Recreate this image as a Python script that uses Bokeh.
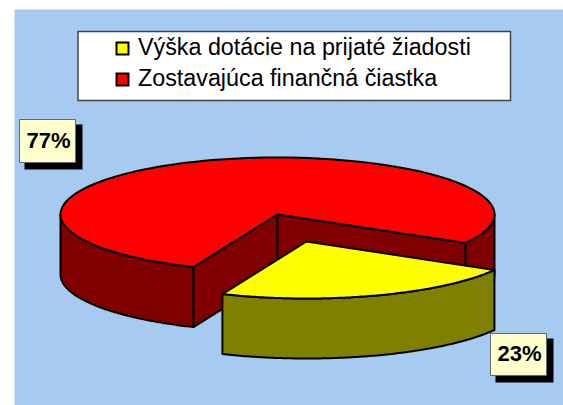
import numpy as np
from bokeh.plotting import figure
from bokeh.models import Range1d
from bokeh.core.properties import value
from bokeh.embed import file_html
from bokeh.resources import INLINE

# data
categories = ["Výška dotácie na prijaté žiadosti", "Zostavajúca finančná čiastka"]
shares = [23, 77]
share_labels = ["23%", "77%"]
top_colors = ["#FFFF00", "#FF0000"]
side_colors = ["#808000", "#800000"]

# pie layout (in page pixels)
CX, CY, RX, RY, DEPTH = 277, 214, 217, 57, 60
START = 30.0
OX, OY = 29, 27
FONT = value("Liberation Sans")

p = figure(width=563, height=405, output_backend="svg", toolbar_location=None,
           x_range=Range1d(0, 563), y_range=Range1d(405, 0),
           min_border=0, outline_line_color=None, background_fill_color="white",
           border_fill_color="white")
p.axis.visible = False
p.grid.visible = False

p.quad(left=[14], right=[563], top=[9], bottom=[405], fill_color="#A6CAF0", line_color=None)


def arc(a0, a1, ox=0, oy=0):
    t = np.radians(np.linspace(a0, a1, 120))
    return CX + ox + RX * np.cos(t), CY + oy + RY * np.sin(t)


def wall(a0, a1, ox=0, oy=0):
    x, y = arc(a0, a1, ox, oy)
    return list(x) + list(x[::-1]), list(y) + list(y[::-1] + DEPTH)


def sector(a0, a1, ox=0, oy=0):
    x, y = arc(a0, a1, ox, oy)
    return [CX + ox] + list(x), [CY + oy] + list(y)


def draw(xy, color):
    p.patch(xy[0], xy[1], fill_color=color, line_color="black", line_width=2, line_join="round")


def spoke(a, ox=0, oy=0):
    ax, ay = arc(a, a, ox, oy)
    return ([CX + ox, ax[0], ax[0], CX + ox], [CY + oy, ay[0], ay[0] + DEPTH, CY + oy + DEPTH])


a_mid = START + 360 * shares[0] / sum(shares)
a_end = START + 360

# large slice: walls, then top
draw(wall(a_mid, 180), side_colors[1])
draw(wall(0, START), side_colors[1])
draw(spoke(a_mid), side_colors[1])
draw(spoke(START), side_colors[1])
draw(sector(a_mid, a_end), top_colors[1])

# exploded small slice
draw(wall(START, a_mid, OX, OY), side_colors[0])
draw(sector(START, a_mid, OX, OY), top_colors[0])

# legend
p.quad(left=[77.5], right=[510], top=[31], bottom=[100], fill_color="white",
       line_color="#444444", line_width=1.5, line_join="miter")
for i, (name, col) in enumerate(zip(categories, top_colors)):
    y = 48 + i * 31
    p.quad(left=[116], right=[128], top=[y - 6], bottom=[y + 6], fill_color=col,
           line_color="black", line_width=2, line_join="miter")
    p.text(x=[137.5], y=[46 + i * 31], text=[name], text_font=FONT, text_font_size="23.3px",
           text_baseline="middle", text_color="black")

# data labels
boxes = [(490, 546, 333, 375), (19, 75, 119, 162)]
for (l, r, t, b), lab in zip(boxes, share_labels):
    p.quad(left=[l + 5], right=[r + 7], top=[t + 5], bottom=[b + 7], fill_color="black", line_color=None)
    p.quad(left=[l], right=[r], top=[t], bottom=[b], fill_color="#FFFFCC",
           line_color="#666666", line_width=1, line_join="miter")
    p.text(x=[(l + r) / 2 + 1], y=[b - 22.5], text=[lab], text_font=FONT, text_font_size="22px",
           text_font_style="bold", text_align="center", text_baseline="middle", text_color="black")

open("out.html", "w").write(file_html(p, INLINE))
